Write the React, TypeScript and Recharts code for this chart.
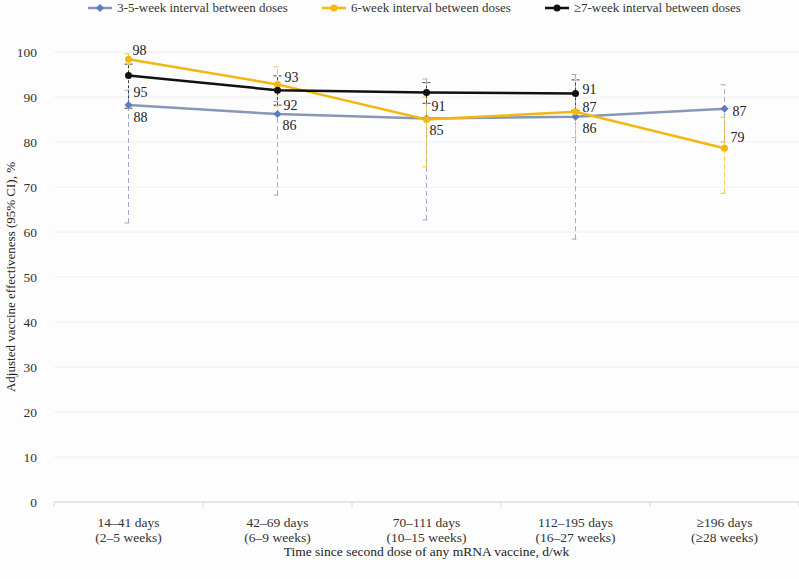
import React from 'react';
import { LineChart, Line, XAxis, YAxis, CartesianGrid, ErrorBar, LabelList, Legend } from 'recharts';

const dayLabels = ['14–41 days', '42–69 days', '70–111 days', '112–195 days', '≥196 days'];
const weekLabels = ['(2–5 weeks)', '(6–9 weeks)', '(10–15 weeks)', '(16–27 weeks)', '(≥28 weeks)'];
const seriesNames = ['3-5-week interval between doses', '6-week interval between doses', '≥7-week interval between doses'];

const shortVE = [88.2, 86.2, 85.2, 85.6, 87.4];
const shortLo = [62.0, 68.2, 62.7, 58.4, 80.0];
const shortHi = [91.5, 89.0, 94.0, 95.0, 92.7];

const midVE = [98.4, 92.8, 85.0, 86.7, 78.6];
const midLo = [95.0, 88.0, 74.5, 81.0, 68.6];
const midHi = [99.6, 96.7, 90.0, 91.0, 85.5];

const longVE: (number | null)[] = [94.8, 91.5, 91.0, 90.8, null];
const longLo: (number | null)[] = [87.5, 88.2, 88.6, 87.0, null];
const longHi: (number | null)[] = [97.3, 94.7, 93.2, 93.8, null];

const yTicks = [0, 10, 20, 30, 40, 50, 60, 70, 80, 90, 100];

const FONT = 'Liberation Serif, DejaVu Serif, serif';
const COLORS = { short: '#8797b5', shortMarker: '#5b7cc0', shortErr: '#a3acc2', mid: '#f3b70f', midErr: '#f3c64a', long: '#111111', longErr: '#444444' };

// label offsets (style only): [dx, dy] relative to the point, null = hidden
const shortLabelPos: ([number, number] | null)[] = [[5, 12], [5, 11], null, [7, 12], [8, 3]];
const midLabelPos: ([number, number] | null)[] = [[4, -9], [7, -7], [3, 11], [7, -4], [6, -11]];
const longLabelPos: ([number, number] | null)[] = [[5, 17], [6, 15], [5, 14], [7, -4], null];

const err = (v: number | null, lo: number | null, hi: number | null) =>
  v == null || lo == null || hi == null ? null : [v - lo, hi - v];

const data = dayLabels.map((d, i) => ({
  name: d,
  week: weekLabels[i],
  short: shortVE[i],
  shortErr: err(shortVE[i], shortLo[i], shortHi[i]),
  mid: midVE[i],
  midErr: err(midVE[i], midLo[i], midHi[i]),
  long: longVE[i],
  longErr: err(longVE[i], longLo[i], longHi[i]),
}));

const makeLabel = (pos: ([number, number] | null)[]) => (props: any) => {
  const { x, y, value, index } = props;
  const p = pos[index];
  if (!p || value == null) return null;
  return (
    <text x={x + p[0]} y={y + p[1]} fontSize={14} fontFamily={FONT} fill="#222" dominantBaseline="central" textAnchor="start">
      {Math.round(value)}
    </text>
  );
};

const Diamond = (props: any) => {
  const { cx, cy } = props;
  if (cx == null || cy == null) return null;
  const r = 4;
  return <path d={`M${cx},${cy - r}L${cx + r},${cy}L${cx},${cy + r}L${cx - r},${cy}Z`} fill={COLORS.shortMarker} />;
};

const XTick = (props: any) => {
  const { x, y, payload, index } = props;
  const half = payload.offset ?? 74.5;
  return (
    <g>
      {index === 0 && <line x1={x - half} x2={x - half} y1={y} y2={y + 5} stroke="#d6d6d6" />}
      <line x1={x + half} x2={x + half} y1={y} y2={y + 5} stroke="#d6d6d6" />
      <text x={x} y={y + 20} textAnchor="middle" dominantBaseline="central" fontSize={13.5} fontFamily={FONT} fill="#333">
        {payload.value}
      </text>
      <text x={x} y={y + 35} textAnchor="middle" dominantBaseline="central" fontSize={13.5} fontFamily={FONT} fill="#333">
        {weekLabels[index]}
      </text>
    </g>
  );
};

const legendItems = [
  { name: seriesNames[0], color: COLORS.short, marker: 'diamond', mcolor: COLORS.shortMarker },
  { name: seriesNames[1], color: COLORS.mid, marker: 'circle', mcolor: COLORS.mid },
  { name: seriesNames[2], color: COLORS.long, marker: 'circle', mcolor: COLORS.long },
];

const LegendContent = () => (
  <div style={{ display: 'flex', justifyContent: 'center', gap: 34, fontFamily: FONT, fontSize: 13, color: '#333', paddingLeft: 30, height: 16, lineHeight: '16px' }}>
    {legendItems.map((it) => (
      <div key={it.name} style={{ display: 'flex', alignItems: 'center', gap: 5 }}>
        <svg width={24} height={10}>
          <line x1={0} x2={24} y1={5} y2={5} stroke={it.color} strokeWidth={2.5} />
          {it.marker === 'circle' ? (
            <circle cx={12} cy={5} r={3.5} fill={it.mcolor} />
          ) : (
            <path d="M12,1L16,5L12,9L8,5Z" fill={it.mcolor} />
          )}
        </svg>
        <span>{it.name}</span>
      </div>
    ))}
  </div>
);

export default function App() {
  return (
    <div style={{ position: 'absolute', left: 0, top: 0, width: 799, height: 579, background: '#fdfdfd', fontFamily: FONT }}>
      <LineChart width={799} height={579} data={data} margin={{ top: 36, right: 0, left: 0, bottom: 0 }}>
        <Legend verticalAlign="top" content={<LegendContent />} wrapperStyle={{ top: 0, left: 0, width: 799 }} />
        <CartesianGrid vertical={false} stroke="#eeeeee" />
        <XAxis
          dataKey="name"
          scale="band"
          height={77}
          tickLine={false}
          tickSize={0}
          tickMargin={0}
          axisLine={{ stroke: '#d6d6d6' }}
          tick={<XTick />}
          interval={0}
          label={{ value: 'Time since second dose of any mRNA vaccine, d/wk', position: 'insideBottom', offset: 23, fontSize: 13.5, fontFamily: FONT, fill: '#222' }}
        />
        <YAxis
          width={54}
          domain={[0, 100]}
          ticks={yTicks}
          axisLine={false}
          tickLine={false}
          tickMargin={11}
          tick={{ fontSize: 13.5, fontFamily: FONT, fill: '#333' }}
          label={{ value: 'Adjusted vaccine effectiveness (95% CI), %', angle: -90, position: 'insideLeft', offset: 10, fontSize: 13, fontFamily: FONT, fill: '#222', style: { textAnchor: 'middle' } }}
        />
        <Line dataKey="short" name={seriesNames[0]} stroke={COLORS.short} strokeWidth={2.5} dot={<Diamond />} activeDot={false} isAnimationActive={false}>
          <ErrorBar dataKey="shortErr" direction="y" width={4} stroke={COLORS.shortErr} strokeWidth={1} strokeDasharray="5 3" />
          <LabelList dataKey="short" content={makeLabel(shortLabelPos)} />
        </Line>
        <Line dataKey="mid" name={seriesNames[1]} stroke={COLORS.mid} strokeWidth={2.5} dot={{ r: 3.5, fill: COLORS.mid, stroke: 'none' }} activeDot={false} isAnimationActive={false}>
          <ErrorBar dataKey="midErr" direction="y" width={4} stroke={COLORS.midErr} strokeWidth={1} strokeDasharray="5 3" />
          <LabelList dataKey="mid" content={makeLabel(midLabelPos)} />
        </Line>
        <Line dataKey="long" name={seriesNames[2]} stroke={COLORS.long} strokeWidth={2.5} dot={{ r: 3.5, fill: COLORS.long, stroke: 'none' }} activeDot={false} isAnimationActive={false}>
          <ErrorBar dataKey="longErr" direction="y" width={4} stroke={COLORS.longErr} strokeWidth={1} strokeDasharray="3 2" />
          <LabelList dataKey="long" content={makeLabel(longLabelPos)} />
        </Line>
      </LineChart>
    </div>
  );
}
